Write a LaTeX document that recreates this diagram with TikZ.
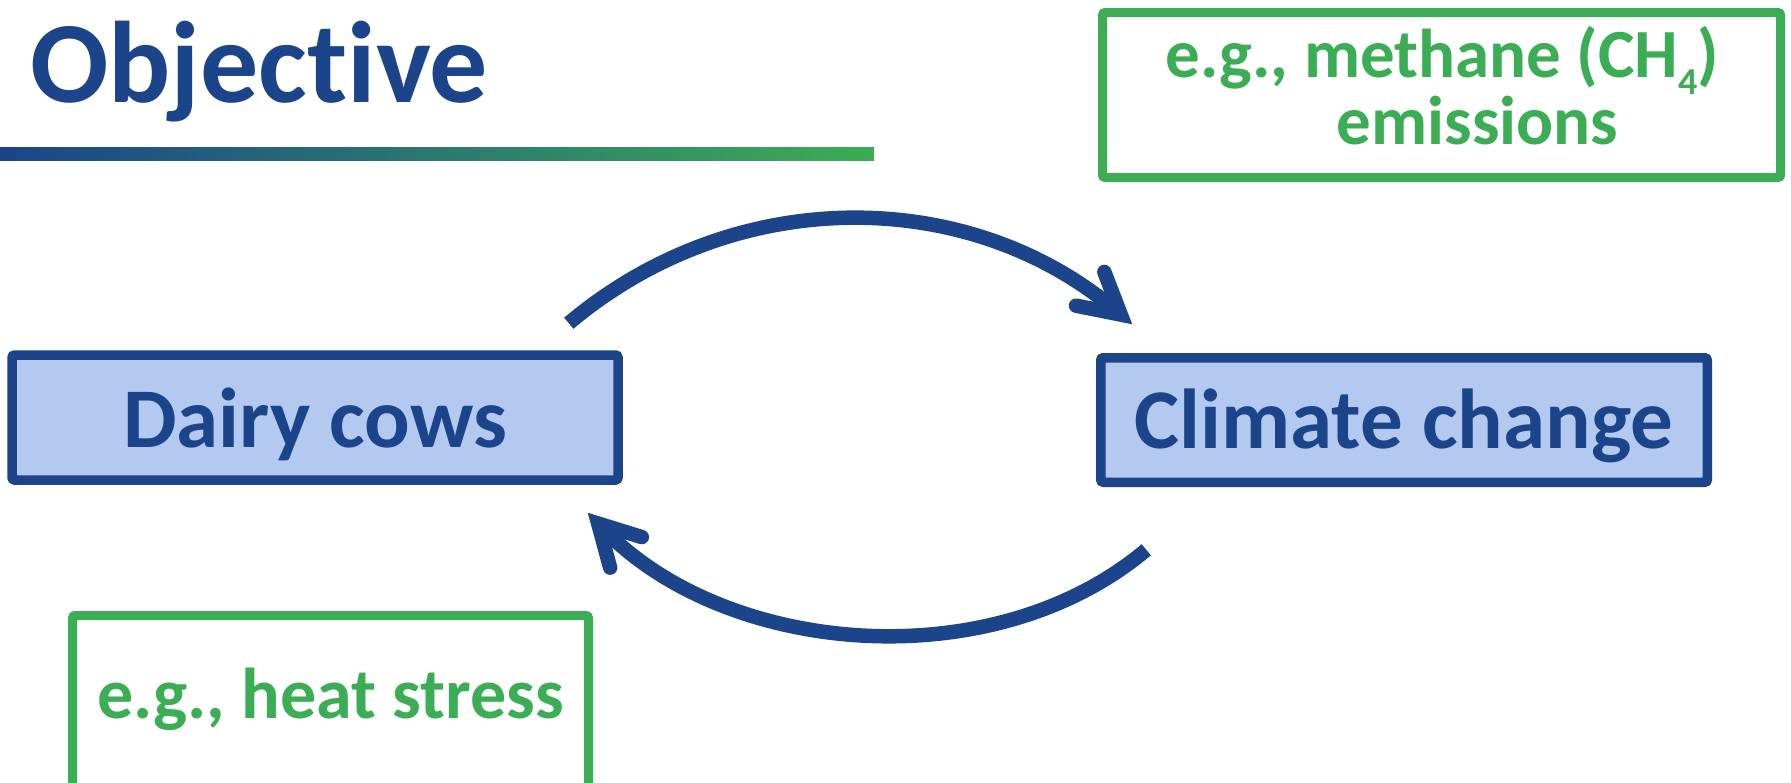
\documentclass[tikz,border=0pt]{standalone}
\usepackage{fontspec}
\setmainfont{Carlito}[Ligatures=NoCommon]
\usetikzlibrary{arrows.meta,calc}
\definecolor{dblue}{RGB}{27,68,138}
\definecolor{lblue}{RGB}{180,201,240}
\definecolor{egreen}{RGB}{59,173,84}
\begin{document}
\begin{tikzpicture}[x=1pt,y=-1pt,
  mainbox/.style={draw=dblue, fill=lblue, line width=9.5pt, rounded corners=2.5pt, inner sep=0pt, text=dblue, font=\fontsize{85}{85}\selectfont\bfseries, text depth=0pt},
  gbox/.style={draw=egreen, line width=9pt, rounded corners=2.5pt, inner sep=0pt},
  gtext/.style={text=egreen, font=\fontsize{69}{69}\selectfont\bfseries, inner sep=0pt, anchor=base},
  cyclearrow/.style={draw=dblue, line width=14.5pt, -{Straight Barb[length=40pt,width=44pt,line cap=round,line join=miter]}}
]
\useasboundingbox (0,0) rectangle (1791,782);
\clip (0,0) rectangle (1791,782);
\node[anchor=base west, inner sep=0pt, text=dblue, font=\fontsize{116}{116}\selectfont\bfseries] (title) at (30,102) {Objective};
\shade[left color=dblue, right color=egreen] (0,147) rectangle (874,160);
\node[mainbox, minimum width=606pt, minimum height=125pt, text height=59pt] (dairy) at (315,417.5) {Dairy cows};
\node[mainbox, minimum width=606.5pt, minimum height=124.5pt, text height=56pt] (climate) at (1404,420) {Climate change};
\node[gbox, minimum width=678pt, minimum height=165pt] (emis) at (1441.5,95) {};
\node[gtext] (emis1) at (1442.5,77) {e.g., methane (CH\raisebox{-17pt}{\fontsize{38}{38}\selectfont 4})};
\node[gtext] (emis2) at (1477.5,144) {emissions};
\node[gbox, minimum width=516pt, minimum height=220pt] (heat) at (330.5,725.5) {};
\node[gtext, font=\fontsize{72}{72}\selectfont\bfseries] (heatt) at (330.5,718) {e.g., heat stress};
\coordinate (t1) at ($(dairy.north east)+(-54,-27)$);
\coordinate (t2) at ($(climate.north west)+(36.25,-28.75)$);
\coordinate (b1) at ($(climate.south west)+(50.25,62.75)$);
\coordinate (b2) at ($(dairy.south east)+(-35,28)$);
\draw[cyclearrow] (t1) .. controls +(165,-139) and +(-165,-139) .. (t2);
\draw[cyclearrow] (b1) .. controls +(-153,129) and +(139,144) .. (b2);
\end{tikzpicture}
\end{document}
